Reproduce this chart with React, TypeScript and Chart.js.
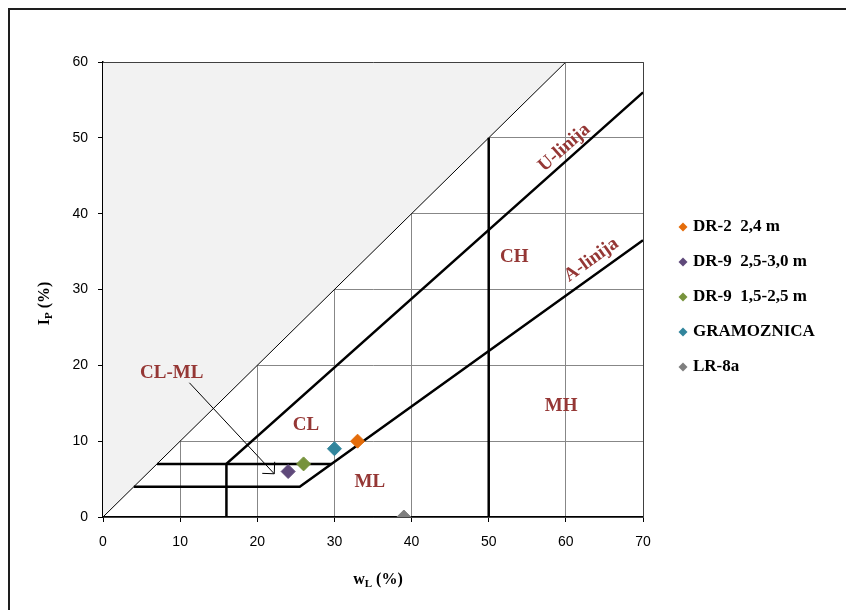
import React, { useEffect, useRef } from "react";
import { Chart, registerables } from "chart.js";
Chart.register(...registerables);

// Axes
const X_MIN = 0;
const X_MAX = 70;
const Y_MIN = 0;
const Y_MAX = 60;
const TICK_STEP = 10;

// Samples
const SAMPLE_NAMES = ["DR-2  2,4 m", "DR-9  2,5-3,0 m", "DR-9  1,5-2,5 m", "GRAMOZNICA", "LR-8a"];
const SAMPLE_WL = [33, 24, 26, 30, 39];
const SAMPLE_IP = [10, 6, 7, 9, 0];
const SAMPLE_COLORS = ["#E46C0A", "#5F497A", "#77933C", "#31859C", "#7F7F7F"];

// Chart lines (wL, Ip)
const U_LINE_WL = [16, 16, 70];
const U_LINE_IP = [0, 7, 56];
const A_LINE_WL = [4, 25.5, 70];
const A_LINE_IP = [4, 4, 36.5];
const CLML_TOP_WL = [7, 29.6];
const CLML_TOP_IP = [7, 7];
const WL50_WL = [50, 50];
const WL50_IP = [0, 50];
const DIAG_WL = [0, 60];
const DIAG_IP = [0, 60];

// Region labels
const REGION_NAMES = ["CL-ML", "CL", "ML", "MH", "CH"];
const REGION_WL = [8.9, 26.3, 34.6, 59.4, 53.3];
const REGION_IP = [19.0, 12.1, 4.6, 14.6, 34.3];

// Line labels
const LINE_LABELS = ["U-linija", "A-linija"];
const LINE_LABEL_WL = [59.8, 63.3];
const LINE_LABEL_IP = [48.7, 33.9];
const LINE_LABEL_SLOPE = [0.9, 0.73];

// Arrow from CL-ML label
const ARROW_WL = [11.2, 22.2];
const ARROW_IP = [17.7, 5.7];

const SERIF = '"Liberation Serif", "Times New Roman", serif';
const SANS = '"Liberation Sans", Arial, sans-serif';
const LABEL_RED = "#953735";

function pts(xs: number[], ys: number[]) {
  return xs.map((x, i) => ({ x, y: ys[i] }));
}

function lineDs(xs: number[], ys: number[], width: number) {
  return {
    type: "scatter" as const,
    data: pts(xs, ys),
    showLine: true,
    borderColor: "#000",
    borderWidth: width,
    pointRadius: 0,
    pointHoverRadius: 0,
    fill: false,
    tension: 0,
  };
}

function drawSubText(ctx: CanvasRenderingContext2D, cx: number, cy: number, main: string, sub: string, rest: string, size: number) {
  const subSize = Math.round(size * 0.68);
  ctx.font = `bold ${size}px ${SERIF}`;
  const w1 = ctx.measureText(main).width;
  const w3 = ctx.measureText(rest).width;
  ctx.font = `bold ${subSize}px ${SERIF}`;
  const w2 = ctx.measureText(sub).width;
  const total = w1 + w2 + w3;
  let x = cx - total / 2;
  const base = cy + size * 0.33;
  ctx.textAlign = "left";
  ctx.textBaseline = "alphabetic";
  ctx.font = `bold ${size}px ${SERIF}`;
  ctx.fillText(main, x, base);
  x += w1;
  ctx.font = `bold ${subSize}px ${SERIF}`;
  ctx.fillText(sub, x, base + size * 0.15);
  x += w2;
  ctx.font = `bold ${size}px ${SERIF}`;
  ctx.fillText(rest, x, base);
}

function diamond(ctx: CanvasRenderingContext2D, x: number, y: number, r: number, color: string) {
  ctx.beginPath();
  ctx.moveTo(x, y - r);
  ctx.lineTo(x + r, y);
  ctx.lineTo(x, y + r);
  ctx.lineTo(x - r, y);
  ctx.closePath();
  ctx.fillStyle = color;
  ctx.fill();
}

const annotPlugin = {
  id: "plastAnnot",
  afterDatasetsDraw(chart: any) {
    const { ctx, chartArea: a, scales } = chart;
    const xs = scales.x;
    const ys = scales.y;
    ctx.save();
    // Region labels
    ctx.fillStyle = LABEL_RED;
    ctx.font = `bold 19px ${SERIF}`;
    ctx.textAlign = "center";
    ctx.textBaseline = "middle";
    REGION_NAMES.forEach((n, i) => {
      ctx.fillText(n, xs.getPixelForValue(REGION_WL[i]), ys.getPixelForValue(REGION_IP[i]));
    });
    // Rotated line labels
    LINE_LABELS.forEach((n, i) => {
      const px = xs.getPixelForValue(LINE_LABEL_WL[i]);
      const py = ys.getPixelForValue(LINE_LABEL_IP[i]);
      const dx = xs.getPixelForValue(10) - xs.getPixelForValue(0);
      const dy = ys.getPixelForValue(0) - ys.getPixelForValue(10 * LINE_LABEL_SLOPE[i]);
      const ang = Math.atan2(dy, dx);
      ctx.save();
      ctx.translate(px, py);
      ctx.rotate(-ang);
      ctx.fillText(n, 0, 0);
      ctx.restore();
    });
    // Arrow
    const x1 = xs.getPixelForValue(ARROW_WL[0]);
    const y1 = ys.getPixelForValue(ARROW_IP[0]);
    const x2 = xs.getPixelForValue(ARROW_WL[1]);
    const y2 = ys.getPixelForValue(ARROW_IP[1]);
    ctx.strokeStyle = "#000";
    ctx.lineWidth = 1;
    ctx.beginPath();
    ctx.moveTo(x1, y1);
    ctx.lineTo(x2, y2);
    const back = Math.atan2(y1 - y2, x1 - x2);
    const hl = 12;
    const spread = (45 * Math.PI) / 180;
    ctx.moveTo(x2 + hl * Math.cos(back - spread), y2 + hl * Math.sin(back - spread));
    ctx.lineTo(x2, y2);
    ctx.lineTo(x2 + hl * Math.cos(back + spread), y2 + hl * Math.sin(back + spread));
    ctx.stroke();
    ctx.restore();
  },
  afterDraw(chart: any) {
    const { ctx, chartArea: a, scales } = chart;
    const ys = scales.y;
    ctx.save();
    // top/right frame of plot area
    ctx.strokeStyle = "#404040";
    ctx.lineWidth = 1;
    ctx.beginPath();
    ctx.moveTo(a.left, a.top + 0.5);
    ctx.lineTo(a.right + 0.5, a.top + 0.5);
    ctx.lineTo(a.right + 0.5, a.bottom);
    ctx.stroke();

    // Axis titles
    ctx.fillStyle = "#000";
    drawSubText(ctx, (a.left + a.right) / 2 + 5, a.bottom + 62, "w", "L", " (%)", 16);
    ctx.save();
    ctx.translate(a.left - 59, (a.top + a.bottom) / 2 + 14);
    ctx.rotate(-Math.PI / 2);
    drawSubText(ctx, 0, 0, "I", "P", " (%)", 16);
    ctx.restore();

    // Legend
    const lx = a.right + 40;
    const ly0 = a.top + 165;
    ctx.font = `bold 17px ${SERIF}`;
    ctx.textAlign = "left";
    ctx.textBaseline = "middle";
    SAMPLE_NAMES.forEach((n, i) => {
      const y = ly0 + i * 35;
      diamond(ctx, lx, y, 4.5, SAMPLE_COLORS[i]);
      ctx.fillStyle = "#000";
      ctx.fillText(n, lx + 10, y);
    });
    ctx.restore();
  },
};

export default function App() {
  const ref = useRef<HTMLCanvasElement>(null);
  useEffect(() => {
    const pointSets = SAMPLE_NAMES.map((n, i) => ({
      type: "scatter" as const,
      label: n,
      data: [{ x: SAMPLE_WL[i], y: SAMPLE_IP[i] }],
      pointStyle: "rectRot" as const,
      pointRadius: 7,
      pointHoverRadius: 7,
      backgroundColor: SAMPLE_COLORS[i],
      borderColor: SAMPLE_COLORS[i],
      borderWidth: 1,
      showLine: false,
    }));
    const chart = new Chart(ref.current as HTMLCanvasElement, {
      type: "scatter",
      data: {
        datasets: [
          ...pointSets,
          lineDs(U_LINE_WL, U_LINE_IP, 2.5),
          lineDs(A_LINE_WL, A_LINE_IP, 2.5),
          lineDs(CLML_TOP_WL, CLML_TOP_IP, 2.5),
          lineDs(WL50_WL, WL50_IP, 2.5),
          {
            ...lineDs(DIAG_WL, DIAG_IP, 1),
            fill: "end",
            backgroundColor: "#F2F2F2",
          },
        ] as any,
      },
      options: {
        responsive: false,
        animation: false,
        events: [],
        layout: { padding: { left: 53, right: 211, top: 52, bottom: 53 } },
        plugins: {
          legend: { display: false },
          tooltip: { enabled: false },
        },
        scales: {
          x: {
            type: "linear",
            min: X_MIN,
            max: X_MAX,
            ticks: {
              stepSize: TICK_STEP,
              color: "#000",
              font: { family: SANS, size: 14 },
              padding: 12,
              maxRotation: 0,
            },
            grid: { color: "#878787", lineWidth: 1, tickLength: 5, tickColor: "#000" },
            border: { color: "#000", width: 1.5 },
            afterFit: (s: any) => {
              s.height = 40;
            },
          },
          y: {
            type: "linear",
            min: Y_MIN,
            max: Y_MAX,
            ticks: {
              stepSize: TICK_STEP,
              color: "#000",
              font: { family: SANS, size: 14 },
              padding: 10,
            },
            grid: { color: "#878787", lineWidth: 1, tickLength: 5, tickColor: "#000" },
            border: { color: "#000", width: 1.5 },
            afterFit: (s: any) => {
              s.width = 40;
            },
          },
        },
      },
      plugins: [annotPlugin],
    });
    return () => chart.destroy();
  }, []);
  return (
    <div
      style={{
        position: "relative",
        width: 846,
        height: 602,
        boxSizing: "border-box",
        borderTop: "2px solid #1e1e1e",
        borderLeft: "2px solid #1e1e1e",
      }}
    >
      <canvas ref={ref} width={844} height={600} style={{ display: "block", width: 844, height: 600 }} />
    </div>
  );
}
